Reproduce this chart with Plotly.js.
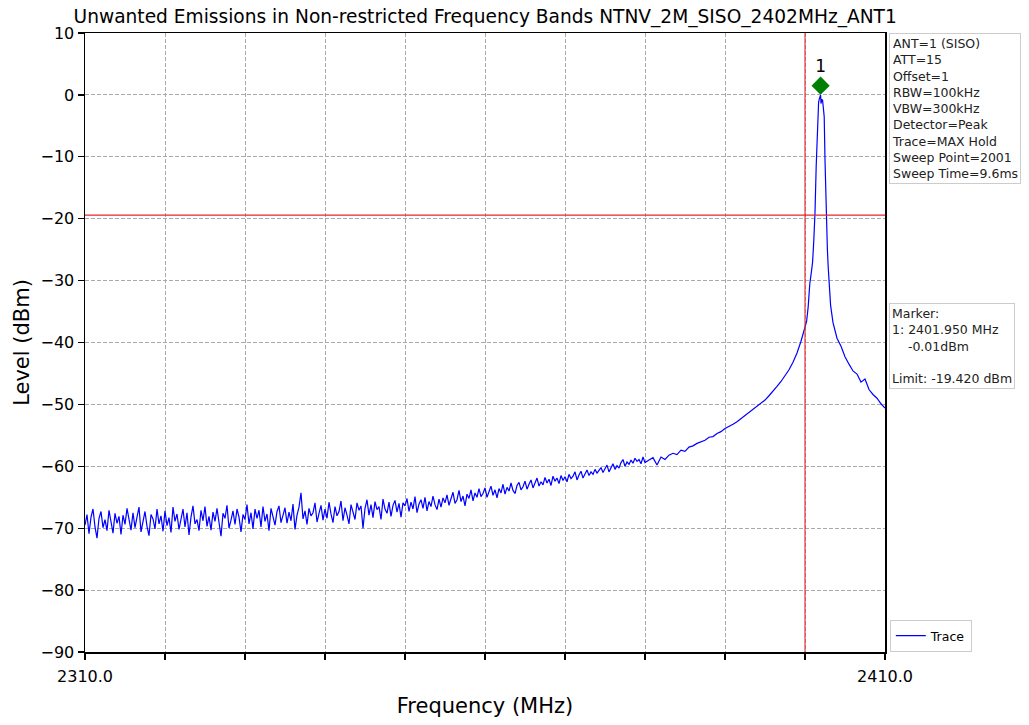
<!DOCTYPE html>
<html>
<head>
<meta charset="utf-8">
<script src="https://cdn.plot.ly/plotly-3.0.1.min.js"></script>
<style>
html,body{margin:0;padding:0;background:#fff;}
#chart{width:1029px;height:725px;}
</style>
</head>
<body>
<div id="chart"></div>
<script>
// ---- data ----
const titleText = "Unwanted Emissions in Non-restricted Frequency Bands NTNV_2M_SISO_2402MHz_ANT1";

// noise-floor sweep segment: 2310 MHz, every 0.25 MHz, up to 2380 MHz
const floorStartMHz = 2310;
const floorStepMHz = 0.25;
const floorLevels = [
 -69.5,-67.8,-70.9,-68.2,-66.9,-69.8,-71.6,-68.4,-67.3,-69.9,-68.6,-70.4,-67.1,-68.9,-70.8,-67.6,-69.2,-68.1,-71.0,-67.9,
 -69.4,-66.8,-68.7,-70.3,-67.5,-69.9,-68.2,-66.6,-70.6,-68.9,-67.3,-69.7,-71.2,-67.8,-68.5,-70.1,-66.9,-69.3,-68.0,-70.5,
 -67.2,-69.6,-68.3,-70.7,-66.6,-68.9,-67.7,-70.2,-68.4,-66.9,-69.8,-67.5,-71.1,-68.2,-66.4,-69.3,-68.6,-70.4,-67.1,-68.8,
 -66.5,-69.7,-68.1,-70.3,-67.4,-68.9,-66.8,-69.5,-71.3,-67.6,-68.4,-66.3,-70.0,-68.7,-67.2,-69.4,-66.9,-68.2,-70.6,-67.8,
 -68.6,-66.2,-69.3,-67.5,-70.1,-66.9,-68.4,-67.1,-69.8,-66.5,-68.9,-67.7,-70.4,-66.8,-68.1,-69.5,-67.3,-66.4,-69.1,-68.0,
 -66.7,-69.2,-67.4,-68.8,-66.1,-70.2,-67.9,-66.6,-64.3,-68.5,-67.2,-69.4,-66.8,-68.0,-67.5,-65.9,-69.0,-67.6,-66.3,-68.7,
 -66.9,-68.4,-65.8,-67.7,-69.1,-66.5,-68.0,-67.3,-65.6,-68.8,-66.7,-67.9,-69.3,-66.2,-67.5,-68.6,-65.9,-67.1,-66.4,-70.0,
 -66.8,-65.4,-67.9,-66.2,-68.3,-65.7,-67.0,-66.5,-68.6,-65.3,-66.9,-67.6,-65.8,-68.1,-66.3,-65.5,-67.4,-66.0,-68.2,-65.9,
 -66.4,-65.2,-67.3,-65.8,-66.9,-64.9,-67.5,-66.1,-65.4,-66.8,-65.0,-67.2,-65.7,-66.5,-64.8,-66.2,-67.0,-65.3,-66.6,-65.1,
 -65.9,-64.6,-66.3,-65.0,-64.2,-66.0,-65.4,-63.9,-65.7,-64.8,-66.4,-64.5,-65.2,-63.8,-65.6,-64.3,-65.0,-63.6,-64.9,-64.4,
 -63.5,-65.0,-64.1,-63.2,-64.7,-63.8,-65.1,-63.6,-64.3,-62.9,-64.5,-63.4,-64.0,-62.7,-63.9,-64.4,-63.1,-62.6,-63.8,-63.3,
 -62.4,-63.7,-62.9,-62.2,-63.5,-62.6,-61.9,-63.2,-62.5,-63.0,-61.8,-62.7,-62.1,-63.1,-61.6,-62.4,-61.9,-62.8,-61.5,-62.3,
 -61.7,-62.5,-61.3,-62.0,-61.6,-60.9,-62.2,-61.4,-60.8,-61.9,-61.2,-60.6,-61.5,-60.9,-61.3,-60.5,-61.1,-60.7,-60.2,-61.0,
 -60.4,-59.8,-60.9,-60.2,-59.6,-60.5,-59.9,-60.3,-59.4,-58.9,-60.0,-59.3,-59.7,-59.0,-59.5,-58.7,-59.2,-58.9,-59.6,-58.5,
 -59.4
];

// skirt and carrier segment
const skirtFreqs = [
 2380.5,2381,2381.5,2382,2382.5,2383,2383.5,2384,2384.5,2385,2385.5,2386,2386.5,2387,2387.5,2388,2388.5,2389,2389.5,2390,
 2390.5,2391,2391.5,2392,2392.5,2393,2393.5,2394,2394.5,2395,2395.5,2396,2396.5,2397,2397.5,2398,2398.5,2399,2399.5,2400,
 2400.2,2400.4,2400.6,2400.8,2400.95,2401.1,2401.25,2401.4,2401.55,2401.7,2401.8,2401.9,2401.95,2402.0,2402.1,2402.2,2402.3,2402.4,2402.5,2402.6,
 2402.7,2402.8,2402.9,2403.0,2403.2,2403.5,2404,2404.5,2405,2405.5,2406,2406.5,2407,2407.5,2408,2408.5,2409,2409.5,2410
];
const skirtLevels = [
 -59.0,-58.6,-59.8,-58.5,-58.9,-58.2,-57.9,-58.1,-57.4,-57.6,-56.9,-56.7,-56.3,-56.0,-55.8,-55.3,-55.2,-54.7,-54.4,-53.9,
 -53.6,-53.2,-52.8,-52.3,-51.9,-51.4,-50.9,-50.4,-49.9,-49.3,-48.6,-47.9,-47.1,-46.3,-45.4,-44.4,-43.2,-41.7,-39.8,-37.5,
 -36.6,-34.2,-30.5,-28.6,-27.0,-23.5,-19.0,-11.5,-4.5,-1.2,-0.6,-0.2,-0.01,-1.4,-0.7,-0.9,-1.8,-3.5,-10.5,-17.0,
 -21.8,-25.0,-27.8,-30.5,-34.0,-36.8,-39.3,-40.6,-42.3,-43.5,-44.6,-45.1,-46.4,-45.9,-47.6,-48.4,-49.0,-49.9,-50.6
];

const markerFreq = 2401.95;
const markerLevel = -0.01;
const markerLabel = "1";
const limitLevel = -19.42;
const bandEdgeFreq = 2400;

const xTickVals = [2310,2320,2330,2340,2350,2360,2370,2380,2390,2400,2410];
const xTickText = ["2310.0","","","","","","","","","","2410.0"];
const yTickVals = [-90,-80,-70,-60,-50,-40,-30,-20,-10,0,10];

const settingsLines = ["ANT=1 (SISO)","ATT=15","Offset=1","RBW=100kHz","VBW=300kHz","Detector=Peak","Trace=MAX Hold","Sweep Point=2001","Sweep Time=9.6ms"];
const markerLines = ["Marker:","1: 2401.950 MHz","\u00a0\u00a0\u00a0\u00a0-0.01dBm","","Limit: -19.420 dBm"];

// ---- build ----
const traceX = floorLevels.map((_, i) => floorStartMHz + i * floorStepMHz).concat(skirtFreqs);
const traceY = floorLevels.concat(skirtLevels);

const FONT = "DejaVu Sans, sans-serif";
const markerOffsetDb = 1.5; // marker symbol drawn just above the peak

const data = [
  {x: traceX, y: traceY, type: "scatter", mode: "lines", name: "Trace",
   line: {color: "#0000ff", width: 1.2}, hoverinfo: "skip"},
  {x: [markerFreq], y: [markerLevel + markerOffsetDb], type: "scatter", mode: "markers+text",
   text: [markerLabel], textposition: "top center",
   textfont: {family: FONT, size: 17, color: "#000"},
   marker: {symbol: "diamond", size: 14, color: "#008000"}, showlegend: false, cliponaxis: false},
  {x: [2310, 2410], y: [limitLevel, limitLevel], type: "scatter", mode: "lines",
   line: {color: "#e8262b", width: 1.3}, showlegend: false},
  {x: [bandEdgeFreq, bandEdgeFreq], y: [-90, 10], type: "scatter", mode: "lines",
   line: {color: "#e8262b", width: 1.1}, showlegend: false}
];

const layout = {
  width: 1029, height: 725,
  margin: {l: 85, r: 144, t: 33, b: 73},
  paper_bgcolor: "#fff", plot_bgcolor: "#fff",
  font: {family: FONT, color: "#000"},
  title: {text: titleText, font: {family: FONT, size: 18.6, color: "#000"},
          x: 0.4715, xanchor: "center", y: 0.977, yanchor: "middle"},
  xaxis: {range: [2310, 2410], tickmode: "array", tickvals: xTickVals, ticktext: xTickText,
          ticks: "outside", ticklen: 6, tickwidth: 1.2, tickcolor: "#000", tickfont: {size: 16, family: FONT},
          ticklabelstandoff: 3,
          showgrid: true, gridcolor: "#aaaaaa", griddash: "4px,2px", gridwidth: 1,
          showline: true, linecolor: "#000", linewidth: 1.5, mirror: true, zeroline: false,
          title: {text: "Frequency (MHz)", font: {size: 21, family: FONT}, standoff: 13}},
  yaxis: {range: [-90, 10], tickmode: "array", tickvals: yTickVals,
          ticks: "outside", ticklen: 6, tickwidth: 1.2, tickcolor: "#000", tickfont: {size: 16, family: FONT},
          showgrid: true, gridcolor: "#aaaaaa", griddash: "4px,2px", gridwidth: 1,
          showline: true, linecolor: "#000", linewidth: 1.5, mirror: true, zeroline: false,
          title: {text: "Level (dBm)", font: {size: 21, family: FONT}, standoff: 5}},
  showlegend: true,
  legend: {x: 1.006, xanchor: "left", y: 0.0, yanchor: "bottom",
           bordercolor: "#cccccc", borderwidth: 1, bgcolor: "#fff",
           font: {family: FONT, size: 12.5}, itemwidth: 30},
  annotations: [
    {xref: "paper", yref: "paper", x: 1.005, y: 1.0, xanchor: "left", yanchor: "top",
     text: settingsLines.join("<br>"), align: "left", showarrow: false,
     font: {family: FONT, size: 12.5, color: "#222"},
     bordercolor: "#cccccc", borderwidth: 1, borderpad: 2, bgcolor: "#fff"},
    {xref: "paper", yref: "paper", x: 1.005, y: 0.5638, xanchor: "left", yanchor: "top",
     text: markerLines.join("<br>"), align: "left", showarrow: false,
     font: {family: FONT, size: 12.5, color: "#222"},
     bordercolor: "#cccccc", borderwidth: 1, borderpad: 2, bgcolor: "#fff"}
  ]
};

Plotly.newPlot("chart", data, layout, {displayModeBar: false, staticPlot: true});
</script>
</body>
</html>
